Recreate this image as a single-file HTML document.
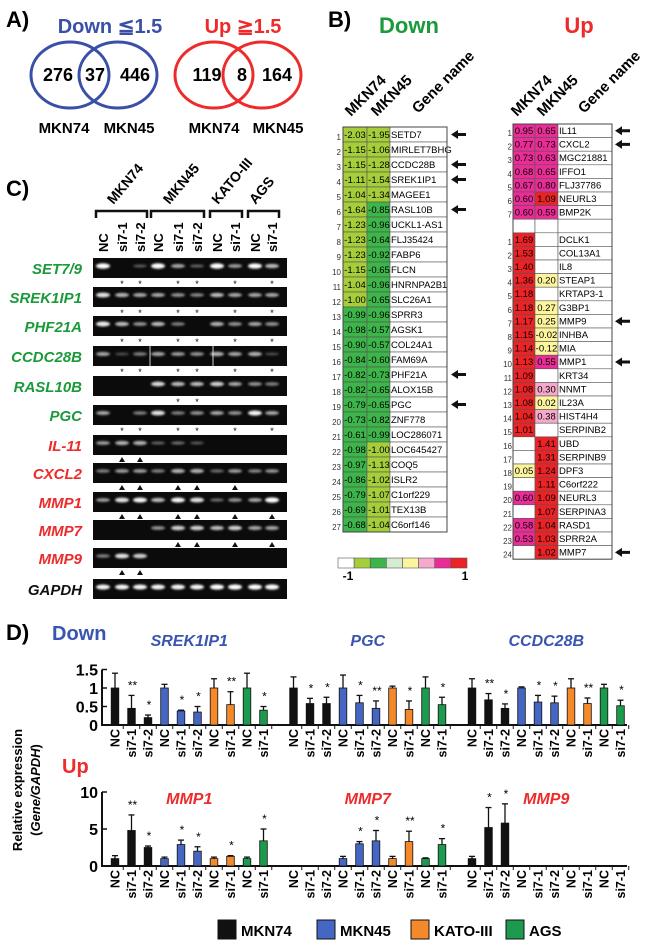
<!DOCTYPE html>
<html><head><meta charset="utf-8">
<style>
html,body{margin:0;padding:0;background:#fff;}
svg{display:block;font-family:"Liberation Sans",sans-serif;}
</style></head>
<body>
<svg id="fig" width="650" height="950" viewBox="0 0 650 950" xmlns="http://www.w3.org/2000/svg">
<defs><filter id="blur" x="-50%" y="-100%" width="200%" height="300%"><feGaussianBlur stdDeviation="1.1"/></filter></defs>
<!-- Panel A -->
<g font-weight="bold">
<text x="6" y="27" font-size="22">A)</text>
<text x="110" y="33" font-size="20" fill="#3a4fa8" text-anchor="middle">Down  ≦1.5</text>
<ellipse cx="70" cy="75" rx="39" ry="33" fill="none" stroke="#3a4fa8" stroke-width="3"/>
<ellipse cx="118" cy="75" rx="39" ry="33" fill="none" stroke="#3a4fa8" stroke-width="3"/>
<text x="58" y="81" font-size="18" text-anchor="middle">276</text>
<text x="95" y="81" font-size="18" text-anchor="middle">37</text>
<text x="135" y="81" font-size="18" text-anchor="middle">446</text>
<text x="64" y="133" font-size="15" text-anchor="middle">MKN74</text>
<text x="129" y="133" font-size="15" text-anchor="middle">MKN45</text>
<text x="243" y="33" font-size="20" fill="#ee2a2a" text-anchor="middle">Up  ≧1.5</text>
<ellipse cx="214" cy="75" rx="39" ry="33" fill="none" stroke="#ee2a2a" stroke-width="3"/>
<ellipse cx="262" cy="75" rx="39" ry="33" fill="none" stroke="#ee2a2a" stroke-width="3"/>
<text x="207" y="81" font-size="18" text-anchor="middle">119</text>
<text x="242" y="81" font-size="18" text-anchor="middle">8</text>
<text x="277" y="81" font-size="18" text-anchor="middle">164</text>
<text x="214" y="133" font-size="15" text-anchor="middle">MKN74</text>
<text x="278" y="133" font-size="15" text-anchor="middle">MKN45</text>
</g>
<!-- Panel B -->
<g font-weight="bold">
<text x="328" y="27" font-size="22">B)</text>
<text x="409" y="33" font-size="22" fill="#1a9a3a" text-anchor="middle">Down</text>
<text x="579" y="33" font-size="22" fill="#ee2a2a" text-anchor="middle">Up</text>
<text x="394" y="521" font-size="13" text-anchor="middle">Log2(Cy5/Cy3)</text>
<text x="348" y="580" font-size="12" text-anchor="middle">-1</text>
<text x="465" y="580" font-size="12" text-anchor="middle">1</text>
</g>
<g id="heat"></g>
<!-- Panel C -->
<g>
<text x="6" y="196" font-size="22" font-weight="bold">C)</text>
</g>
<g id="gel"></g>
<!-- Panel D -->
<g font-weight="bold">
<text x="6" y="640" font-size="22">D)</text>
<text x="52" y="640" font-size="20" fill="#3a55b0">Down</text>
<text x="62" y="773" font-size="20" fill="#ee2a2a">Up</text>
<text transform="translate(22,790) rotate(-90)" font-size="13" text-anchor="middle">Relative expression</text>
<text transform="translate(40,790) rotate(-90)" font-size="13" text-anchor="middle">(<tspan font-style="italic">Gene/GAPDH</tspan>)</text>
</g>
<g id="bars"></g>
<g id="legend" font-weight="bold" font-size="15"></g>
</svg>
<script>
// ---------- Heatmap data ----------
const downGenes=["SETD7","MIRLET7BHG","CCDC28B","SREK1IP1","MAGEE1","RASL10B","UCKL1-AS1","FLJ35424","FABP6","FLCN","HNRNPA2B1","SLC26A1","SPRR3","AGSK1","COL24A1","FAM69A","PHF21A","ALOX15B","PGC","ZNF778","LOC286071","LOC645427","COQ5","ISLR2","C1orf229","TEX13B","C6orf146"];
const downMKN74=[-2.03,-1.15,-1.15,-1.11,-1.04,-1.64,-1.23,-1.23,-1.23,-1.15,-1.04,-1.00,-0.99,-0.98,-0.90,-0.84,-0.82,-0.82,-0.79,-0.73,-0.61,-0.98,-0.97,-0.86,-0.79,-0.69,-0.68];
const downMKN45=[-1.95,-1.06,-1.28,-1.54,-1.34,-0.85,-0.96,-0.64,-0.92,-0.65,-0.96,-0.65,-0.96,-0.57,-0.57,-0.60,-0.73,-0.65,-0.65,-0.82,-0.99,-1.00,-1.13,-1.02,-1.07,-1.01,-1.04];
const downArrows=["SETD7","CCDC28B","SREK1IP1","RASL10B","PHF21A","PGC"];
const upGenes=["IL11","CXCL2","MGC21881","IFFO1","FLJ37786","NEURL3","BMP2K","","DCLK1","COL13A1","IL8","STEAP1","KRTAP3-1","G3BP1","MMP9","INHBA","MIA","MMP1","KRT34","NNMT","IL23A","HIST4H4","SERPINB2","UBD","SERPINB9","DPF3","C6orf222","NEURL3","SERPINA3","RASD1","SPRR2A","MMP7"];
const upNums=["1","2","3","4","5","6","7","","1","2","3","4","5","6","7","8","9","10","11","12","13","14","15","16","17","18","19","20","21","22","23","24"];
const upMKN74=[0.95,0.77,0.73,0.68,0.67,0.60,0.60,null,1.69,1.53,1.40,1.36,1.18,1.18,1.17,1.15,1.14,1.13,1.09,1.08,1.08,1.04,1.01,null,null,0.05,null,0.60,null,0.58,0.53,null];
const upMKN45=[0.65,0.73,0.63,0.65,0.80,1.09,0.59,null,null,null,null,0.20,null,0.27,0.25,-0.02,-0.12,0.55,null,0.30,0.02,0.38,null,1.41,1.31,1.24,1.11,1.09,1.07,1.04,1.03,1.02];
const upArrows=["IL11","CXCL2","MMP9","MMP1","MMP7"];
const colorbarColors=["#ffffff","#a6cd3a","#3db54a","#d6ecd2","#fdf59e","#f6a9cb","#ea2d96","#ec2326"];

// ---------- Gel data ----------
const gelGenes=["SET7/9","SREK1IP1","PHF21A","CCDC28B","RASL10B","PGC","IL-11","CXCL2","MMP1","MMP7","MMP9","GAPDH"];
const gelColors=["#1a9a3a","#1a9a3a","#1a9a3a","#1a9a3a","#1a9a3a","#1a9a3a","#ee2a2a","#ee2a2a","#ee2a2a","#ee2a2a","#ee2a2a","#111"];
const gelLanes=["NC","si7-1","si7-2","NC","si7-1","si7-2","NC","si7-1","NC","si7-1"];
const gelGroups=["MKN74","MKN45","KATO-III","AGS"];
const gelGroupSpan=[[0,2],[3,5],[6,7],[8,9]];
const gelBands=[
[1,0,0.12,1,0.5,0.15,1,0.45,0.95,0.6],
[0.8,0.55,0.5,0.5,0.4,0.35,0.6,0.5,0.5,0.5],
[0.85,0.6,0.4,0.6,0.3,0,0.55,0.4,0.5,0.4],
[0.5,0.05,0.3,0.5,0.45,0.4,0.55,0.5,0.55,0.05],
[0,0,0,0.75,0.6,0.6,0.7,0.5,0.4,0.3],
[0.5,0,0.3,0.8,0.3,0.4,0.5,0.4,0.9,0.5],
[0.45,0.55,0.55,0.15,0.2,0.1,0,0,0,0],
[0.3,0.45,0.45,0.3,0.55,0.55,0.2,0.45,0.35,0.4],
[0.45,0.8,0.9,0.6,0.9,0.8,0.2,0.4,0.5,0.95],
[0,0,0,0.4,0.7,0.7,0.6,0.7,0.5,0.5],
[0.3,0.8,0.7,0,0,0,0,0,0,0],
[0.9,0.9,0.9,0.9,0.9,0.9,0.95,0.95,0.95,0.95]];
const gelMarks=[[1,2,4,5,7,9],[1,2,4,5,7,9],[1,2,4,5,7,9],[1,2,4,5,7,9],[4,5],[1,2,4,5,7,9],[1,2],[1,2,4,5,7],[1,2,4,5,7,9],[4,5,7,9],[1,2],[]];

// ---------- Bar chart data ----------
const barLabels=["NC","si7-1","si7-2","NC","si7-1","si7-2","NC","si7-1","NC","si7-1"];
const barLine=["MKN74","MKN74","MKN74","MKN45","MKN45","MKN45","KATO-III","KATO-III","AGS","AGS"];
const downTitles=["SREK1IP1","PGC","CCDC28B"];
const upTitles=["MMP1","MMP7","MMP9"];
const srek1ip1Vals=[1.0,0.45,0.2,1.0,0.38,0.35,1.0,0.55,1.0,0.4];
const srek1ip1Err=[1.4,0.8,0.27,1.1,0.4,0.5,1.25,0.9,1.4,0.5];
const srek1ip1Sig=["","**","*","","*","*","","**","","*"];
const pgcVals=[1.0,0.58,0.58,1.0,0.6,0.45,1.0,0.42,1.0,0.55];
const pgcErr=[1.3,0.72,0.75,1.35,0.8,0.65,1.05,0.65,1.3,0.75];
const pgcSig=["","*","*","","*","**","","*","","*"];
const ccdc28bVals=[1.0,0.68,0.45,1.0,0.62,0.6,1.0,0.58,1.0,0.52];
const ccdc28bErr=[1.25,0.85,0.57,1.03,0.8,0.78,1.25,0.73,1.1,0.67];
const ccdc28bSig=["","**","*","","*","*","","**","","*"];
const mmp1Vals=[1.0,4.8,2.5,1.0,2.9,2.0,1.0,1.3,1.0,3.4];
const mmp1Err=[1.4,6.9,2.7,1.2,3.5,2.6,1.2,1.4,1.2,5.0];
const mmp1Sig=["","**","*","","*","*","","*","","*"];
const mmp7Vals=[null,null,null,1.0,3.0,3.4,1.0,3.3,1.0,2.9];
const mmp7Err=[null,null,null,1.3,3.3,4.8,1.3,4.7,1.1,3.7];
const mmp7Sig=["","","","","*","*","","**","","*"];
const mmp9Vals=[1.0,5.2,5.8,null,null,null,null,null,null,null];
const mmp9Err=[1.3,7.9,8.4,null,null,null,null,null,null,null];
const mmp9Sig=["","*","*","","","","","","",""];
const topTicks=[0,0.5,1,1.5];
const topTickLabels=["0","0.5","1","1.5"];
const botTicks=[0,5,10];
const botTickLabels=["0","5","10"];
const legendNames=["MKN74","MKN45","KATO-III","AGS"];
const lineColors={"MKN74":"#111111","MKN45":"#4566c2","KATO-III":"#f4892a","AGS":"#1c9a4e"};

const NS="http://www.w3.org/2000/svg";
function mk(parent,tag,attrs,text){const e=document.createElementNS(NS,tag);for(const k in attrs)e.setAttribute(k,attrs[k]);if(text!==undefined)e.textContent=text;parent.appendChild(e);return e;}

// ---------- Heatmaps ----------
const heat=document.getElementById('heat');
function downColor(v){return v<=-1.0?"#a6cd3a":"#3db54a";}
function upColor(v){if(v===null)return "#ffffff";if(v>=1)return "#ec2326";if(v>=0.5)return "#ea2d96";if(v>=0.3)return "#f6a9cb";return "#fdf59e";}
function arrow(g,x,y){const p=mk(g,'path',{d:`M${x-9},${y} L${x-2},${y-4.5} L${x-2},${y-1.5} L${x+6},${y-1.5} L${x+6},${y+1.5} L${x-2},${y+1.5} L${x-2},${y+4.5} Z`,fill:'#111'});

}
function headers(g,x0,yb){
 const hs=[["MKN74",x0,yb],["MKN45",x0+26,yb],["Gene name",x0+67,yb-3]];
 hs.forEach(h=>{const t=mk(g,'text',{transform:`translate(${h[1]},${h[2]}) rotate(-45)`,'font-size':15,'font-weight':'bold'},h[0]);
 
 });
}
// down table
(function(){
 const g=mk(heat,'g',{});
 
 
 headers(g,351,117);
 const x1=343,x2=367,x3=390,x4=447,top=127,rh=15;
 downGenes.forEach((gn,i)=>{
  const y=top+i*rh;
  const c1=mk(g,'rect',{x:x1,y:y,width:x2-x1,height:rh,fill:downColor(downMKN74[i]),stroke:'#555','stroke-width':0.6});
  
  
  const c2=mk(g,'rect',{x:x2,y:y,width:x3-x2,height:rh,fill:downColor(downMKN45[i]),stroke:'#555','stroke-width':0.6});
  
  
  const c3=mk(g,'rect',{x:x3,y:y,width:x4-x3,height:rh,fill:'#fff',stroke:'#555','stroke-width':0.6});
  
  
  mk(g,'text',{x:x1+12,y:y+11,'font-size':9.5,'text-anchor':'middle'},downMKN74[i].toFixed(2));
  mk(g,'text',{x:x2+12,y:y+11,'font-size':9.5,'text-anchor':'middle'},downMKN45[i].toFixed(2));
  const t=mk(g,'text',{x:x3+1,y:y+11,'font-size':9.5},gn);
  
  
  mk(g,'text',{x:x1-2,y:y+13,'font-size':8,'text-anchor':'end',fill:'#333'},String(i+1));
  if(downArrows.includes(gn))arrow(g,460,y+7.5);
 });
 mk(g,'rect',{x:x1,y:top,width:x4-x1,height:rh*downGenes.length,fill:'none',stroke:'#444','stroke-width':1});
})();
// up table
(function(){
 const g=mk(heat,'g',{});
 
 
 headers(g,517,117);
 const x1=513,x2=535,x3=558,x4=612,top=124,rh=13.6;
 upGenes.forEach((gn,i)=>{
  const y=top+i*rh;
  const a=upMKN74[i],b=upMKN45[i];
  const c1=mk(g,'rect',{x:x1,y:y,width:x2-x1,height:rh,fill:upColor(a),stroke:'#555','stroke-width':0.6});
  
  
  const c2=mk(g,'rect',{x:x2,y:y,width:x3-x2,height:rh,fill:upColor(b),stroke:'#555','stroke-width':0.6});
  
  
  const c3=mk(g,'rect',{x:x3,y:y,width:x4-x3,height:rh,fill:'#fff',stroke:'#555','stroke-width':0.6});
  
  
  if(a!==null)mk(g,'text',{x:x1+11,y:y+10,'font-size':9.5,'text-anchor':'middle'},a.toFixed(2));
  if(b!==null)mk(g,'text',{x:x2+11.5,y:y+10,'font-size':9.5,'text-anchor':'middle'},b.toFixed(2));
  const t=mk(g,'text',{x:x3+1,y:y+10,'font-size':9.5},gn);
  
  
  mk(g,'text',{x:x1-1,y:y+12,'font-size':8,'text-anchor':'end',fill:'#333'},upNums[i]);
  if(gn&&upArrows.includes(gn))arrow(g,624,y+6.8);
 });
 mk(g,'rect',{x:x1,y:top,width:x4-x1,height:rh*upGenes.length,fill:'none',stroke:'#444','stroke-width':1});
})();
// colorbar
(function(){
 const g=mk(heat,'g',{});
 
 
 const w=(467-338)/colorbarColors.length;
 colorbarColors.forEach((c,i)=>{const r=mk(g,'rect',{x:338+i*w,y:558,width:w,height:10,fill:c,stroke:'#555','stroke-width':0.6});
 
 });
})();

// ---------- Gel ----------
const gel=document.getElementById('gel');
const laneX=[103,122,140,158,178,197,217,235,255,272];
const rowY=[268,297,326,356,386,415,445,473,502,530,558,589];
gelGroups.forEach((gn,k)=>{
 const a=laneX[gelGroupSpan[k][0]]-7,b=laneX[gelGroupSpan[k][1]]+7;
 const br=mk(gel,'path',{d:`M${a},${218} L${a},${211} L${b},${211} L${b},${218}`,fill:'none',stroke:'#111','stroke-width':2.5});
 
 
 const cx=(a+b)/2-8;
 const t=mk(gel,'text',{transform:`translate(${cx},${205}) rotate(-50)`,'font-size':14,'font-weight':'bold'},gn);
 
 
});
gelLanes.forEach((l,i)=>{
 const t=mk(gel,'text',{transform:`translate(${laneX[i]+5},${252}) rotate(-90)`,'font-size':13,'font-weight':'bold'},l);
 
 
});
gelGenes.forEach((gn,r)=>{
 const y=rowY[r];
 const lab=mk(gel,'text',{x:82,y:y+6,'font-size':15,'font-weight':'bold','font-style':'italic','text-anchor':'end',fill:gelColors[r]},gn);
 
 
 const box=mk(gel,'rect',{x:93,y:y-10,width:194,height:20,fill:'#0b0b0b'});
 
 
 if(gn==="CCDC28B"){[150,213].forEach(x=>mk(gel,'line',{x1:x,y1:y-10,x2:x,y2:y+10,stroke:'#ccc','stroke-width':1}));}
 gelBands[r].forEach((v,i)=>{
  if(v<=0)return;
  const b=mk(gel,'ellipse',{cx:laneX[i],cy:y-2,rx:7,ry:1.3+v*1.4,fill:'#fff',opacity:Math.min(1,0.25+v*0.8),filter:'url(#blur)'});
  
  
 });
 gelMarks[r].forEach(i=>{
  if(r<6){const s=mk(gel,'text',{x:laneX[i],y:y+19,'font-size':9,'text-anchor':'middle'},'*');
   
   }
  else{const s=mk(gel,'path',{d:`M${laneX[i]-3},${y+17} L${laneX[i]+3},${y+17} L${laneX[i]},${y+12} Z`,fill:'#111'});
   
   }
 });
});

// ---------- Bars ----------
const bars=document.getElementById('bars');
function chart(base,pxPerUnit,ticks,tickLabels,titles,titleColor,titleY,series){
 const yv=v=>base-v*pxPerUnit;
 const bx=(g,i)=>115+g*178.5+i*16.5;
 const ax=mk(bars,'line',{x1:102,y1:base,x2:627,y2:base,stroke:'#111','stroke-width':2});
 
 
 const ya=mk(bars,'line',{x1:102,y1:base+1,x2:102,y2:yv(ticks[ticks.length-1]),stroke:'#111','stroke-width':2});
 
 
 ticks.forEach((t,k)=>{
  mk(bars,'line',{x1:102,y1:yv(t),x2:107,y2:yv(t),stroke:'#111','stroke-width':1.5});
  const tl=mk(bars,'text',{x:98,y:yv(t)+6,'font-size':16,'font-weight':'bold','text-anchor':'end'},tickLabels[k]);
  
  
 });
 series.forEach((s,g)=>{
  const tt=mk(bars,'text',{x:bx(g,4.5),y:titleY,'font-size':16,'font-weight':'bold','font-style':'italic','text-anchor':'middle',fill:titleColor},titles[g]);
  
  
  for(let i=0;i<10;i++){
   const x=bx(g,i);
   mk(bars,'line',{x1:x+8.25,y1:base,x2:x+8.25,y2:base+4,stroke:'#111','stroke-width':1});
   const lb=mk(bars,'text',{transform:`translate(${x+4.5},${base+4}) rotate(-90)`,'font-size':12.5,'font-weight':'bold','text-anchor':'end'},barLabels[i]);
   
   
   const v=s.vals[i];
   if(v===null)continue;
   const e=s.err[i];
   mk(bars,'line',{x1:x,y1:yv(v),x2:x,y2:yv(e),stroke:'#111','stroke-width':1.3});
   mk(bars,'line',{x1:x-3,y1:yv(e),x2:x+3,y2:yv(e),stroke:'#111','stroke-width':1.3});
   const r=mk(bars,'rect',{x:x-3.8,y:yv(v),width:7.6,height:v*pxPerUnit,fill:lineColors[barLine[i]],stroke:'#111','stroke-width':0.8});
   
   
   if(s.sig[i]){const st=mk(bars,'text',{x:x+1,y:yv(e)-6,'font-size':12,'text-anchor':'middle'},s.sig[i]);
    
    }
  }
 });
}
chart(725,37,topTicks,topTickLabels,downTitles,"#3a55b0",646,[
 {vals:srek1ip1Vals,err:srek1ip1Err,sig:srek1ip1Sig},
 {vals:pgcVals,err:pgcErr,sig:pgcSig},
 {vals:ccdc28bVals,err:ccdc28bErr,sig:ccdc28bSig}]);
chart(866,7.4,botTicks,botTickLabels,upTitles,"#ee2a2a",804,[
 {vals:mmp1Vals,err:mmp1Err,sig:mmp1Sig},
 {vals:mmp7Vals,err:mmp7Err,sig:mmp7Sig},
 {vals:mmp9Vals,err:mmp9Err,sig:mmp9Sig}]);

// ---------- Legend ----------
const lg=document.getElementById('legend');
const lgX=[218,317,411,506];
legendNames.forEach((n,i)=>{
 const r=mk(lg,'rect',{x:lgX[i],y:920,width:18,height:19,fill:lineColors[n],stroke:'#111','stroke-width':1});
 
 
 const t=mk(lg,'text',{x:lgX[i]+23,y:936},n);
 
 
});
</script>
</body></html>
